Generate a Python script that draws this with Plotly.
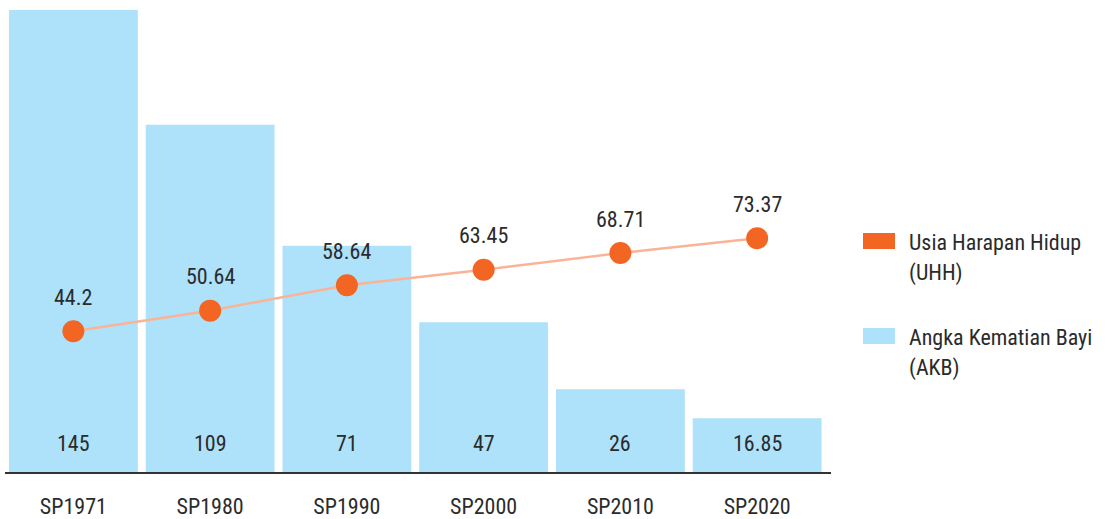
import plotly.graph_objects as go

categories = ["SP1971", "SP1980", "SP1990", "SP2000", "SP2010", "SP2020"]
akb = [145, 109, 71, 47, 26, 16.85]
uhh = [44.2, 50.64, 58.64, 63.45, 68.71, 73.37]
akb_labels = ["145", "109", "71", "47", "26", "16.85"]
uhh_labels = ["44.2", "50.64", "58.64", "63.45", "68.71", "73.37"]
legend_lines = [["Usia Harapan Hidup", "(UHH)"], ["Angka Kematian Bayi", "(AKB)"]]

FONT = "Roboto Condensed, Roboto, sans-serif"
FS = 22
TXT = "#2b2b2b"
BAR = "#aee1fa"
ORANGE = "#f26522"
LINE = "#f9b497"

W, H = 1115, 519
PL, PR, PT, PB = 5, 831, 10, 472  # plot area in pixels


def px(x):
    return (x - PL) / (PR - PL)


def py(y):
    return (PB - y) / (PB - PT)


fig = go.Figure()
fig.add_trace(go.Bar(x=categories, y=akb, marker=dict(color=BAR, line=dict(width=0)),
                     name="Angka Kematian Bayi (AKB)", showlegend=False, hoverinfo="skip"))
fig.add_trace(go.Scatter(x=categories, y=uhh, mode="lines+markers",
                         line=dict(color=LINE, width=2.5),
                         marker=dict(color=ORANGE, size=22),
                         name="Usia Harapan Hidup (UHH)", showlegend=False))

annotations = []
for c, t in zip(categories, akb_labels):
    annotations.append(dict(x=c, y=0, text=t, showarrow=False, yanchor="middle", yshift=29,
                            font=dict(family=FONT, size=FS, color=TXT)))
for c, v, t in zip(categories, uhh, uhh_labels):
    annotations.append(dict(x=c, y=v, text=t, showarrow=False, yanchor="middle", yshift=34,
                            font=dict(family=FONT, size=FS, color=TXT)))

# manual legend
shapes = []
for lines, col, ymid in zip(legend_lines, [ORANGE, BAR], [241, 336]):
    shapes.append(dict(type="rect", xref="paper", yref="paper",
                       x0=px(863), x1=px(895), y0=py(ymid + 8), y1=py(ymid - 8),
                       fillcolor=col, line=dict(width=0)))
    for k, line in enumerate(lines):
        annotations.append(dict(xref="paper", yref="paper", x=px(907), y=py(ymid + 1 + 31 * k),
                                xanchor="left", yanchor="middle", align="left", showarrow=False,
                                text=line, font=dict(family=FONT, size=FS, color=TXT)))

fig.update_layout(
    width=W, height=H,
    margin=dict(l=PL, r=W - PR, t=PT, b=H - PB, pad=0),
    paper_bgcolor="white", plot_bgcolor="white",
    bargap=0.058,
    xaxis=dict(range=[-0.5, 5.54], showgrid=False, showline=True, linecolor="#333333", linewidth=2,
               automargin=False,
               ticks="", tickfont=dict(family=FONT, size=FS, color=TXT), ticklabelstandoff=14),
    yaxis=dict(range=[0, 145], visible=False, showgrid=False, automargin=False),
    annotations=annotations, shapes=shapes,
    font=dict(family=FONT, color=TXT),
)

fig.write_html("out.html", config={"displayModeBar": False},
               post_script="document.body.style.margin='0';")
